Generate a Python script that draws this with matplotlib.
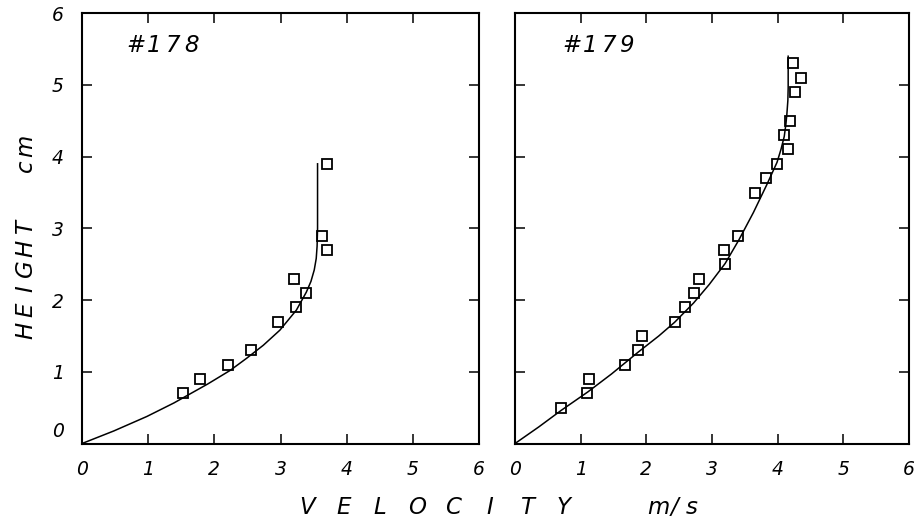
import matplotlib
matplotlib.use("Agg")
import matplotlib.pyplot as plt

plt.rcParams["font.family"] = "DejaVu Sans"
plt.rcParams["font.style"] = "oblique"

# run #178: measured points and fitted profile
v178 = [1.53, 1.78, 2.20, 2.55, 2.96, 3.20, 3.24, 3.38, 3.63, 3.70, 3.70]
h178 = [0.7, 0.9, 1.1, 1.3, 1.7, 2.3, 1.9, 2.1, 2.9, 2.7, 3.9]
fit178_v = [0, 0.48, 0.98, 1.39, 1.90, 2.24, 2.49, 2.74, 2.99, 3.24, 3.39,
            3.46, 3.51, 3.54, 3.553, 3.56, 3.56]
fit178_h = [0, 0.175, 0.377, 0.566, 0.83, 1.02, 1.19, 1.37, 1.58, 1.86, 2.11,
            2.26, 2.42, 2.58, 2.75, 3.00, 3.90]

# run #179: measured points and fitted profile
v179 = [0.70, 1.10, 1.13, 1.68, 1.88, 1.94, 2.43, 2.59, 2.72, 2.80, 3.20,
        3.18, 3.40, 3.65, 3.82, 3.99, 4.16, 4.10, 4.19, 4.27, 4.35, 4.23]
h179 = [0.5, 0.7, 0.9, 1.1, 1.3, 1.5, 1.7, 1.9, 2.1, 2.3, 2.5,
        2.7, 2.9, 3.5, 3.7, 3.9, 4.1, 4.3, 4.5, 4.9, 5.1, 5.3]
fit179_v = [0, 0.36, 0.70, 1.11, 1.47, 1.87, 2.19, 2.43, 2.72, 2.96, 3.20,
            3.41, 3.63, 3.83, 3.99, 4.05, 4.10, 4.125, 4.14, 4.155, 4.16, 4.16]
fit179_h = [0, 0.23, 0.46, 0.72, 0.97, 1.27, 1.50, 1.69, 1.96, 2.22, 2.51,
            2.84, 3.22, 3.60, 3.92, 4.10, 4.28, 4.45, 4.59, 4.78, 4.96, 5.40]

ticks = [0, 1, 2, 3, 4, 5, 6]
tick_labels = ["0", "1", "2", "3", "4", "5", "6"]

W, H = 917, 528
fig = plt.figure(figsize=(W / 100, H / 100), dpi=100)

ax1 = fig.add_axes([82 / W, 0.160, 397 / W, 0.815])
ax2 = fig.add_axes([515 / W, 0.160, 394 / W, 0.815])


def spaced_text(s, x, y, pitch, vertical=False, size=16.5):
    # plotter-style lettering: every character on a fixed pitch (pixels)
    for i, ch in enumerate(s):
        if ch == " ":
            continue
        if vertical:
            fig.text(x / W, (y + i * pitch) / H, ch, rotation=90,
                     rotation_mode="anchor", ha="center", va="baseline",
                     fontsize=size)
        else:
            fig.text((x + i * pitch) / W, y / H, ch, ha="center",
                     va="baseline", fontsize=size)


for ax, v, h, fv, fh in [(ax1, v178, h178, fit178_v, fit178_h),
                         (ax2, v179, h179, fit179_v, fit179_h)]:
    ax.plot(fv, fh, color="black", lw=1.1)
    ax.plot(v, h, ls="none", marker="s", ms=6.5, mfc="none",
            mec="black", mew=1.3)
    ax.set_xlim(0, 6)
    ax.set_ylim(0, 6)
    ax.set_xticks(ticks)
    ax.set_xticklabels(tick_labels, fontsize=13.5)
    ax.set_yticks(ticks)
    ax.tick_params(direction="in", length=7, width=1.1,
                   top=True, right=True, pad=12)
    ax.tick_params(axis="y", pad=13)
    for sp in ax.spines.values():
        sp.set_linewidth(1.5)

# the zero on the height axis sits a little above the corner
ax1.set_yticklabels([""] + tick_labels[1:], fontsize=13.5)
ax1.annotate("0", xy=(0, 0), xycoords="axes fraction", xytext=(-13, 9),
             textcoords="offset points", ha="right", va="center",
             fontsize=13.5)
ax2.set_yticklabels([])

spaced_text("#178", 136, 476, 18.5)
spaced_text("#179", 572, 476, 18.5)
spaced_text("V E L O C I T Y", 307, 14, 18.3)
spaced_text("m/s", 658, 14, 17)
spaced_text("HEIGHT  cm", 32, 198, 20.5, vertical=True)

fig.savefig("out.png", dpi=100)
